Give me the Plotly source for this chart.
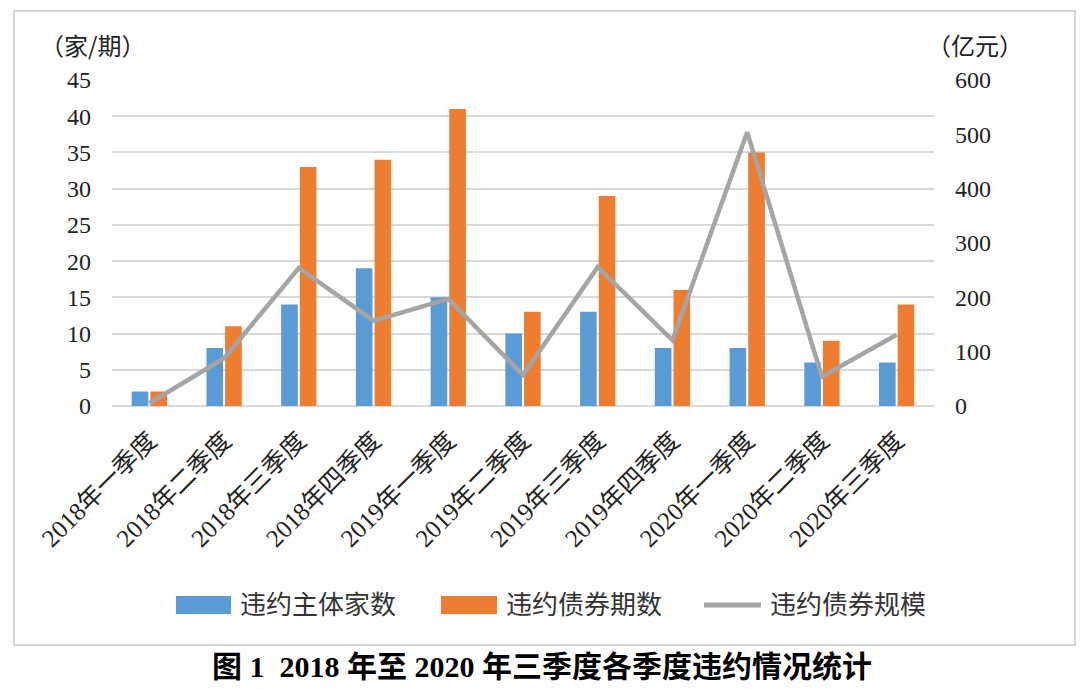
import plotly.graph_objects as go

categories = ["2018年一季度", "2018年二季度", "2018年三季度", "2018年四季度",
              "2019年一季度", "2019年二季度", "2019年三季度", "2019年四季度",
              "2020年一季度", "2020年二季度", "2020年三季度"]
issuers = [2, 8, 14, 19, 15, 10, 13, 8, 8, 6, 6]
bonds = [2, 11, 33, 34, 41, 13, 29, 16, 35, 9, 14]
scale = [5, 88, 254, 157, 197, 57, 256, 121, 504, 54, 131]
series_names = ["违约主体家数", "违约债券期数", "违约债券规模"]
left_ticks = [0, 5, 10, 15, 20, 25, 30, 35, 40, 45]
right_ticks = [0, 100, 200, 300, 400, 500, 600]

BLUE = "#5b9bd5"
ORANGE = "#ed7d31"
GRAY = "#a5a5a5"
FONT = "Liberation Serif, Noto Sans CJK SC, serif"
FONT_CJK = "Noto Sans CJK SC, sans-serif"

W, H = 1080, 689
L, R, T, B = 112, 934, 80, 406


def px(x):
    return (x - L) / (R - L)


def py(y):
    return (B - y) / (B - T)


fig = go.Figure()
fig.add_trace(go.Bar(x=categories, y=issuers, name=series_names[0],
                     marker=dict(color=BLUE, line=dict(width=0)), showlegend=False))
fig.add_trace(go.Bar(x=categories, y=bonds, name=series_names[1],
                     marker=dict(color=ORANGE, line=dict(width=0)), showlegend=False))
fig.add_trace(go.Scatter(x=categories, y=scale, name=series_names[2], yaxis="y2",
                         mode="lines", line=dict(color=GRAY, width=4.5),
                         showlegend=False))

shapes = [
    dict(type="rect", xref="paper", yref="paper",
         x0=px(14), x1=px(1075), y0=py(645), y1=py(11),
         line=dict(color="#d4d4d4", width=2), fillcolor="rgba(0,0,0,0)", layer="below"),
]
annotations = [
    dict(text="（家/期）", xref="paper", yref="paper", x=px(92), y=py(45),
         xanchor="center", yanchor="middle",
         showarrow=False, font=dict(family=FONT_CJK, size=24, color="#222")),
    dict(text="（亿元）", xref="paper", yref="paper", x=px(975), y=py(45),
         xanchor="center", yanchor="middle",
         showarrow=False, font=dict(family=FONT_CJK, size=24, color="#222")),
    dict(text="<b>图 1  2018 年至 2020 年三季度各季度违约情况统计</b>", xref="paper", yref="paper",
         x=px(542), y=py(666), xanchor="center", yanchor="middle", showarrow=False,
         font=dict(family=FONT, size=30, color="#000")),
]

# custom legend
legend_items = [
    (176, 231, 238, "rect", BLUE, series_names[0]),
    (441, 497, 504, "rect", ORANGE, series_names[1]),
    (704, 761, 768, "line", GRAY, series_names[2]),
]
ly = 605
for x0, x1, tx, kind, color, name in legend_items:
    if kind == "rect":
        shapes.append(dict(type="rect", xref="paper", yref="paper",
                           x0=px(x0), x1=px(x1), y0=py(ly + 9), y1=py(ly - 9),
                           fillcolor=color, line=dict(width=0)))
    else:
        shapes.append(dict(type="line", xref="paper", yref="paper",
                           x0=px(x0), x1=px(x1), y0=py(ly), y1=py(ly),
                           line=dict(color=color, width=5)))
    annotations.append(dict(text=name, xref="paper", yref="paper", x=px(tx), y=py(ly),
                            xanchor="left", yanchor="middle", showarrow=False,
                            font=dict(family=FONT, size=26, color="#333")))

fig.update_layout(
    width=W, height=H, autosize=False,
    margin=dict(l=L, r=W - R, t=T, b=H - B, pad=0),
    paper_bgcolor="white", plot_bgcolor="white",
    barmode="group", bargap=0.5, bargroupgap=0.11,
    showlegend=False,
    font=dict(family=FONT, size=20, color="#222"),
    xaxis=dict(tickangle=-45, tickfont=dict(family=FONT, size=25, color="#222"),
               showgrid=False, showline=False, ticks="", automargin=False,
               ticklabelstandoff=14),
    yaxis=dict(range=[0, 45], tickvals=left_ticks, showgrid=True, gridcolor="#d9d9d9",
               gridwidth=1.5, zeroline=True, zerolinecolor="#d9d9d9", zerolinewidth=1.5,
               tickfont=dict(family=FONT, size=24, color="#222"), ticklabelstandoff=20,
               automargin=False),
    yaxis2=dict(range=[0, 600], tickvals=right_ticks, overlaying="y", side="right",
                showgrid=False, zeroline=False, automargin=False,
                tickfont=dict(family=FONT, size=24, color="#222"), ticklabelstandoff=20),
    shapes=shapes, annotations=annotations,
)

fig.write_html("out.html", config={"displayModeBar": False},
               post_script="document.body.style.margin='0';document.body.style.padding='0';")
